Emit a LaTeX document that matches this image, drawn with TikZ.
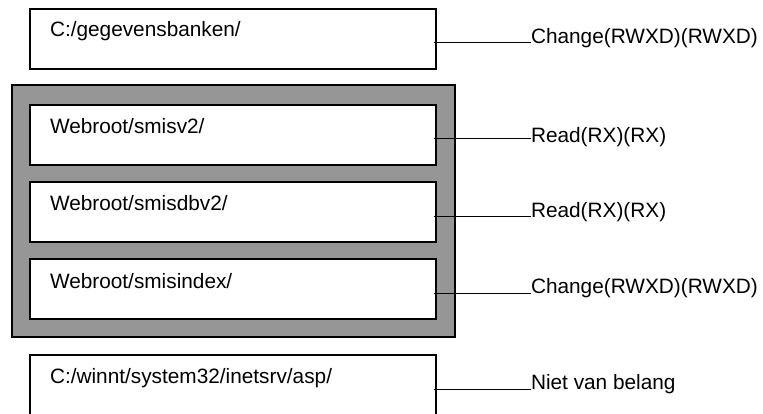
\documentclass[tikz,border=0pt]{standalone}
\usepackage{fontspec}
\setmainfont{Liberation Sans}
\definecolor{panelgray}{RGB}{150,150,150}
\begin{document}
\begin{tikzpicture}[x=1pt,y=-1pt,
  every node/.style={font=\fontsize{20.8}{24}\selectfont, inner sep=0pt, outer sep=0pt},
  dirbox/.style={draw=black, fill=white, line width=1.2pt, anchor=north west, minimum width=406pt, minimum height=60pt},
  panel/.style={draw=black, fill=panelgray, line width=1.3pt, anchor=north west, minimum width=443pt, minimum height=252pt},
  dirtext/.style={anchor=base west},
  permtext/.style={anchor=base west},
  link/.style={draw=black, line width=1pt}
]
\useasboundingbox (0,0) rectangle (763,414);
\clip (0,0) rectangle (763,414);
\node[panel] (p) at (12,85) {};
\node[dirbox] (b1) at (30,9) {};
\node[dirbox] (b2) at (30,105) {};
\node[dirbox] (b3) at (30,182) {};
\node[dirbox] (b4) at (30,259) {};
\node[dirbox, minimum height=64pt] (b5) at (30,355) {};
\node[dirtext] (t1) at (50,37) {C:/gegevensbanken/};
\node[dirtext] (t2) at (50,134) {Webroot/smisv2/};
\node[dirtext] (t3) at (50,211) {Webroot/smisdbv2/};
\node[dirtext] (t4) at (50,288) {Webroot/smisindex/};
\node[dirtext] (t5) at (50,383) {C:/winnt/system32/inetsrv/asp/};
\node[permtext] (l1) at (531,43.5) {Change(RWXD)(RWXD)};
\node[permtext] (l2) at (531,143) {Read(RX)(RX)};
\node[permtext] (l3) at (531,217.5) {Read(RX)(RX)};
\node[permtext] (l4) at (531,293.5) {Change(RWXD)(RWXD)};
\node[permtext] (l5) at (531,389.5) {Niet van belang};
\draw[link] ([xshift=-2pt]b1.east |- 0,42.7) -- (l1.base west |- 0,42.7);
\draw[link] ([xshift=-2pt]b2.east |- 0,139) -- (l2.base west |- 0,139);
\draw[link] ([xshift=-2pt]b3.east |- 0,217) -- (l3.base west |- 0,217);
\draw[link] ([xshift=-2pt]b4.east |- 0,293) -- (l4.base west |- 0,293);
\draw[link] ([xshift=-2pt]b5.east |- 0,389) -- (l5.base west |- 0,389);
\end{tikzpicture}
\end{document}
